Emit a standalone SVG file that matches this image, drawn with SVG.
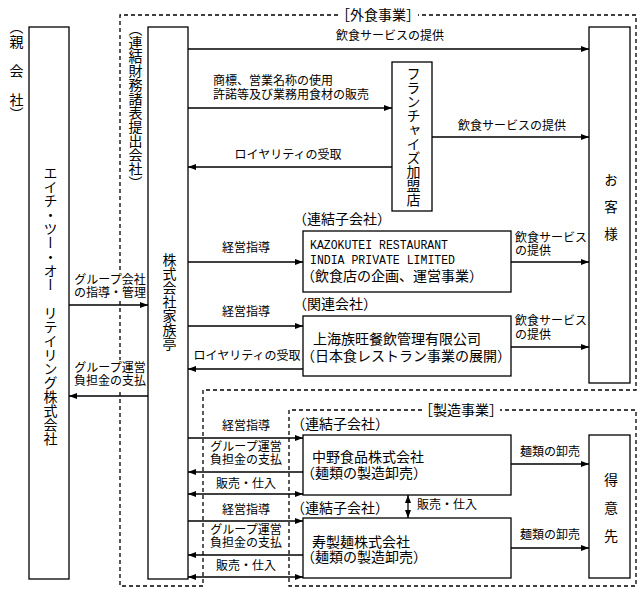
<svg xmlns="http://www.w3.org/2000/svg" width="643" height="593" viewBox="0 0 643 593">
<style>
text{font-family:"Liberation Serif","Noto Sans CJK JP",serif;fill:#000;dominant-baseline:central}
.lb{font-size:12px}
.bx{font-size:14px}
.mid{text-anchor:middle}
.v{writing-mode:vertical-rl;font-size:14px}
.h{font-feature-settings:"halt"}
.vh{font-feature-settings:"vhal"}
.mono{font-family:"Liberation Mono","Noto Sans CJK JP",monospace;font-size:13px}
.box{fill:#fff;stroke:#000;stroke-width:1.3}
.dash{fill:none;stroke:#000;stroke-width:1.3;stroke-dasharray:4 3}
.ln line{stroke:#000;stroke-width:1.3}
.ar{marker-end:url(#ah)}
.ar2{marker-end:url(#ah);marker-start:url(#ah)}
</style>
<defs>
<marker id="ah" viewBox="0 0 8 6" refX="8" refY="3" markerWidth="8" markerHeight="6" markerUnits="userSpaceOnUse" orient="auto-start-reverse"><path d="M0,0L8,3L0,6z" fill="#000"/></marker>
</defs>
<rect width="643" height="593" fill="#fff"/>

<g id="groups">
<path class="dash" d="M338,15H120V586H203V390H636V15H418"/>
<text class="bx mid" x="378" y="15"><tspan class="h">［</tspan>外食事業<tspan class="h">］</tspan></text>
<path class="dash" d="M422,410H289V586H636V410H500"/>
<text class="bx mid" x="461" y="410"><tspan class="h">［</tspan>製造事業<tspan class="h">］</tspan></text>
</g>

<g id="parent-label"><text class="v" x="15" y="27" style="letter-spacing:0.5px"><tspan class="vh">（</tspan>親　会　社<tspan class="vh">）</tspan></text></g>

<g id="parent">
<rect class="box" x="29" y="27" width="40" height="552"/>
<text class="v" x="49" y="166">エイチ・ツー・オー　リテイリング株式会社</text>
</g>

<g id="kazokutei">
<text class="v" x="134" y="29"><tspan class="vh">（</tspan>連結財務諸表提出会社<tspan class="vh">）</tspan></text>
<rect class="box" x="148" y="27" width="40" height="552"/>
<text class="v" x="168" y="253">株式会社家族亭</text>
</g>

<g id="franchise">
<rect class="box" x="392" y="62" width="40" height="149"/>
<text class="v" x="412" y="67">フランチャイズ加盟店</text>
</g>

<g id="customer">
<rect class="box" x="589" y="27" width="41" height="356"/>
<text class="v" x="609.5" y="173" style="font-size:13.5px">お　客　様</text>
</g>

<g id="india">
<text class="bx" x="300" y="219"><tspan class="h">（</tspan>連結子会社<tspan class="h">）</tspan></text>
<rect class="box" x="303" y="231" width="208" height="61"/>
<text class="mono" x="310" y="245" textLength="138" lengthAdjust="spacingAndGlyphs">KAZOKUTEI RESTAURANT</text>
<text class="mono" x="310" y="260" textLength="145" lengthAdjust="spacingAndGlyphs">INDIA PRIVATE LIMITED</text>
<text class="bx" x="308" y="276"><tspan class="h">（</tspan>飲食店の企画、運営事業<tspan class="h">）</tspan></text>
</g>

<g id="shanghai">
<text class="bx" x="300" y="304"><tspan class="h">（</tspan>関連会社<tspan class="h">）</tspan></text>
<rect class="box" x="303" y="316" width="208" height="60"/>
<text class="bx" x="313" y="339">上海族旺餐飲管理有限公司</text>
<text class="bx" x="308" y="356"><tspan class="h">（</tspan>日本食レストラン事業の展開<tspan class="h">）</tspan></text>
</g>

<g id="nakano">
<text class="bx" x="298" y="424"><tspan class="h">（</tspan>連結子会社<tspan class="h">）</tspan></text>
<rect class="box" x="303" y="435" width="208" height="60"/>
<text class="bx" x="312" y="457">中野食品株式会社</text>
<text class="bx" x="308" y="473"><tspan class="h">（</tspan>麺類の製造卸売<tspan class="h">）</tspan></text>
</g>

<g id="kotobuki">
<text class="bx" x="298" y="508"><tspan class="h">（</tspan>連結子会社<tspan class="h">）</tspan></text>
<rect class="box" x="303" y="518" width="208" height="60"/>
<text class="bx" x="312" y="542">寿製麺株式会社</text>
<text class="bx" x="308" y="557"><tspan class="h">（</tspan>麺類の製造卸売<tspan class="h">）</tspan></text>
</g>

<g id="tokuisaki">
<rect class="box" x="589" y="435" width="41" height="143"/>
<text class="v" x="609.5" y="473">得　意　先</text>
</g>

<g id="connectors" class="ln">
<line class="ar" x1="69" y1="305" x2="148" y2="305"/>
<line class="ar" x1="148" y1="396" x2="69" y2="396"/>
<rect x="74" y="272" width="72" height="28" fill="#fff"/>
<text class="lb mid" x="110" y="280">グループ会社</text>
<text class="lb mid" x="110" y="293">の指導・管理</text>
<rect x="74" y="360" width="72" height="29" fill="#fff"/>
<text class="lb mid" x="110" y="368">グループ運営</text>
<text class="lb mid" x="110" y="381">負担金の支払</text>

<line class="ar" x1="188" y1="49" x2="589" y2="49"/>
<text class="lb mid" x="390" y="36">飲食サービスの提供</text>
<line class="ar" x1="188" y1="108" x2="392" y2="108"/>
<text class="lb" x="213" y="81">商標、営業名称の使用</text>
<text class="lb" x="213" y="95">許諾等及び業務用食材の販売</text>
<line class="ar" x1="392" y1="167" x2="188" y2="167"/>
<text class="lb mid" x="288" y="155">ロイヤリティの受取</text>
<line class="ar" x1="432" y1="137" x2="589" y2="137"/>
<text class="lb mid" x="512" y="126">飲食サービスの提供</text>

<line class="ar" x1="188" y1="262" x2="303" y2="262"/>
<text class="lb mid" x="246" y="248">経営指導</text>
<line class="ar" x1="511" y1="262" x2="589" y2="262"/>
<text class="lb" x="515" y="238">飲食サービス</text>
<text class="lb" x="515" y="251">の提供</text>

<line class="ar" x1="188" y1="326" x2="303" y2="326"/>
<text class="lb mid" x="246" y="312">経営指導</text>
<line class="ar" x1="303" y1="369" x2="188" y2="369"/>
<text class="lb mid" x="247" y="356">ロイヤリティの受取</text>
<line class="ar" x1="511" y1="347" x2="589" y2="347"/>
<text class="lb" x="515" y="321">飲食サービス</text>
<text class="lb" x="515" y="335">の提供</text>

<line class="ar" x1="188" y1="438" x2="303" y2="438"/>
<text class="lb mid" x="246" y="426">経営指導</text>
<line class="ar" x1="303" y1="472" x2="188" y2="472"/>
<text class="lb mid" x="246" y="447">グループ運営</text>
<text class="lb mid" x="246" y="460">負担金の支払</text>
<line class="ar2" x1="188" y1="494" x2="303" y2="494"/>
<text class="lb mid" x="246" y="484">販売・仕入</text>

<line class="ar" x1="188" y1="521" x2="303" y2="521"/>
<text class="lb mid" x="246" y="510">経営指導</text>
<line class="ar" x1="303" y1="555" x2="188" y2="555"/>
<text class="lb mid" x="246" y="530">グループ運営</text>
<text class="lb mid" x="246" y="543">負担金の支払</text>
<line class="ar2" x1="188" y1="577" x2="303" y2="577"/>
<text class="lb mid" x="246" y="566">販売・仕入</text>

<line class="ar2" x1="408" y1="495" x2="408" y2="518"/>
<text class="lb" x="417" y="505">販売・仕入</text>

<line class="ar" x1="511" y1="464" x2="589" y2="464"/>
<text class="lb mid" x="550" y="452">麺類の卸売</text>
<line class="ar" x1="511" y1="548" x2="589" y2="548"/>
<text class="lb mid" x="550" y="535">麺類の卸売</text>
</g>
</svg>
